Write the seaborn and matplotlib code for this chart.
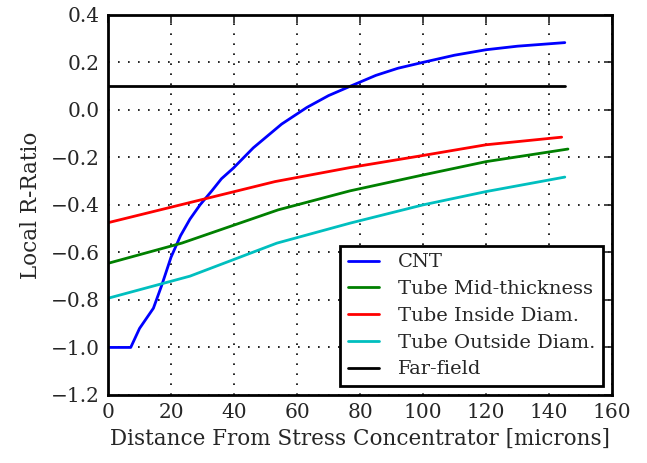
import numpy as np
import pandas as pd
import seaborn as sns
import matplotlib.pyplot as plt

# values
cnt_x = [0, 7.2, 10, 14.4, 17, 20, 23, 26, 29.2, 33, 36, 39.8, 46.1, 55.1, 63.1, 70, 77, 85, 92, 100, 110, 120, 130, 145]
cnt_y = [-1.0, -1.0, -0.92, -0.835, -0.74, -0.62, -0.53, -0.46, -0.40, -0.34, -0.29, -0.245, -0.16, -0.06, 0.01, 0.06, 0.1, 0.145, 0.175, 0.2, 0.23, 0.253, 0.268, 0.283]

mid_x = [0, 23.4, 54, 76.8, 100, 120, 146]
mid_y = [-0.646, -0.561, -0.421, -0.341, -0.274, -0.218, -0.165]

inside_x = [0, 53, 76.8, 100, 120, 144]
inside_y = [-0.475, -0.302, -0.243, -0.192, -0.147, -0.115]

outside_x = [0, 26, 53.6, 76.8, 100, 120, 145]
outside_y = [-0.793, -0.70, -0.561, -0.477, -0.40, -0.344, -0.283]

far_x = [0, 145]
far_y = [0.1, 0.1]

xticks = [0, 20, 40, 60, 80, 100, 120, 140, 160]
yticks = [-1.2, -1.0, -0.8, -0.6, -0.4, -0.2, 0.0, 0.2, 0.4]

series = [
    ("CNT", cnt_x, cnt_y, "#0000ff"),
    ("Tube Mid-thickness", mid_x, mid_y, "#008000"),
    ("Tube Inside Diam.", inside_x, inside_y, "#ff0000"),
    ("Tube Outside Diam.", outside_x, outside_y, "#00bfbf"),
    ("Far-field", far_x, far_y, "#000000"),
]

sns.set_style("white")
plt.rcParams['font.family'] = ['DejaVu Serif']

fig = plt.figure(figsize=(6.47, 4.63), dpi=100)
ax = fig.add_axes([0.167, 0.147, 0.779, 0.821])

for name, xs, ys, col in series:
    df = pd.DataFrame({"x": xs, "y": ys})
    sns.lineplot(data=df, x="x", y="y", ax=ax, color=col, lw=2, label=name, sort=False)

ax.set_xlim(0, 160)
ax.set_ylim(-1.2, 0.4)
ax.set_xticks(xticks)
ax.set_yticks(yticks)
ax.set_yticklabels([f"{v:.1f}".replace("-", "\u2212") for v in yticks])
ax.grid(True, color="black", linestyle=(0, (1, 5)), linewidth=1.2)
ax.tick_params(direction="in", length=6, width=1.2, top=True, right=True, labelsize=14.5, pad=6)
for s in ax.spines.values():
    s.set_linewidth(2)
    s.set_color("black")
ax.set_xlabel("Distance From Stress Concentrator [microns]", fontsize=15.5, labelpad=4)
ax.set_ylabel("Local R-Ratio", fontsize=15.5, labelpad=6)

leg = ax.legend(loc="lower right", fontsize=14, fancybox=False, framealpha=1,
                edgecolor="black", handlelength=1.6, handletextpad=1.0,
                borderaxespad=0.45, labelspacing=0.45)
leg.get_frame().set_linewidth(2)

fig.savefig("out.png", dpi=100)
